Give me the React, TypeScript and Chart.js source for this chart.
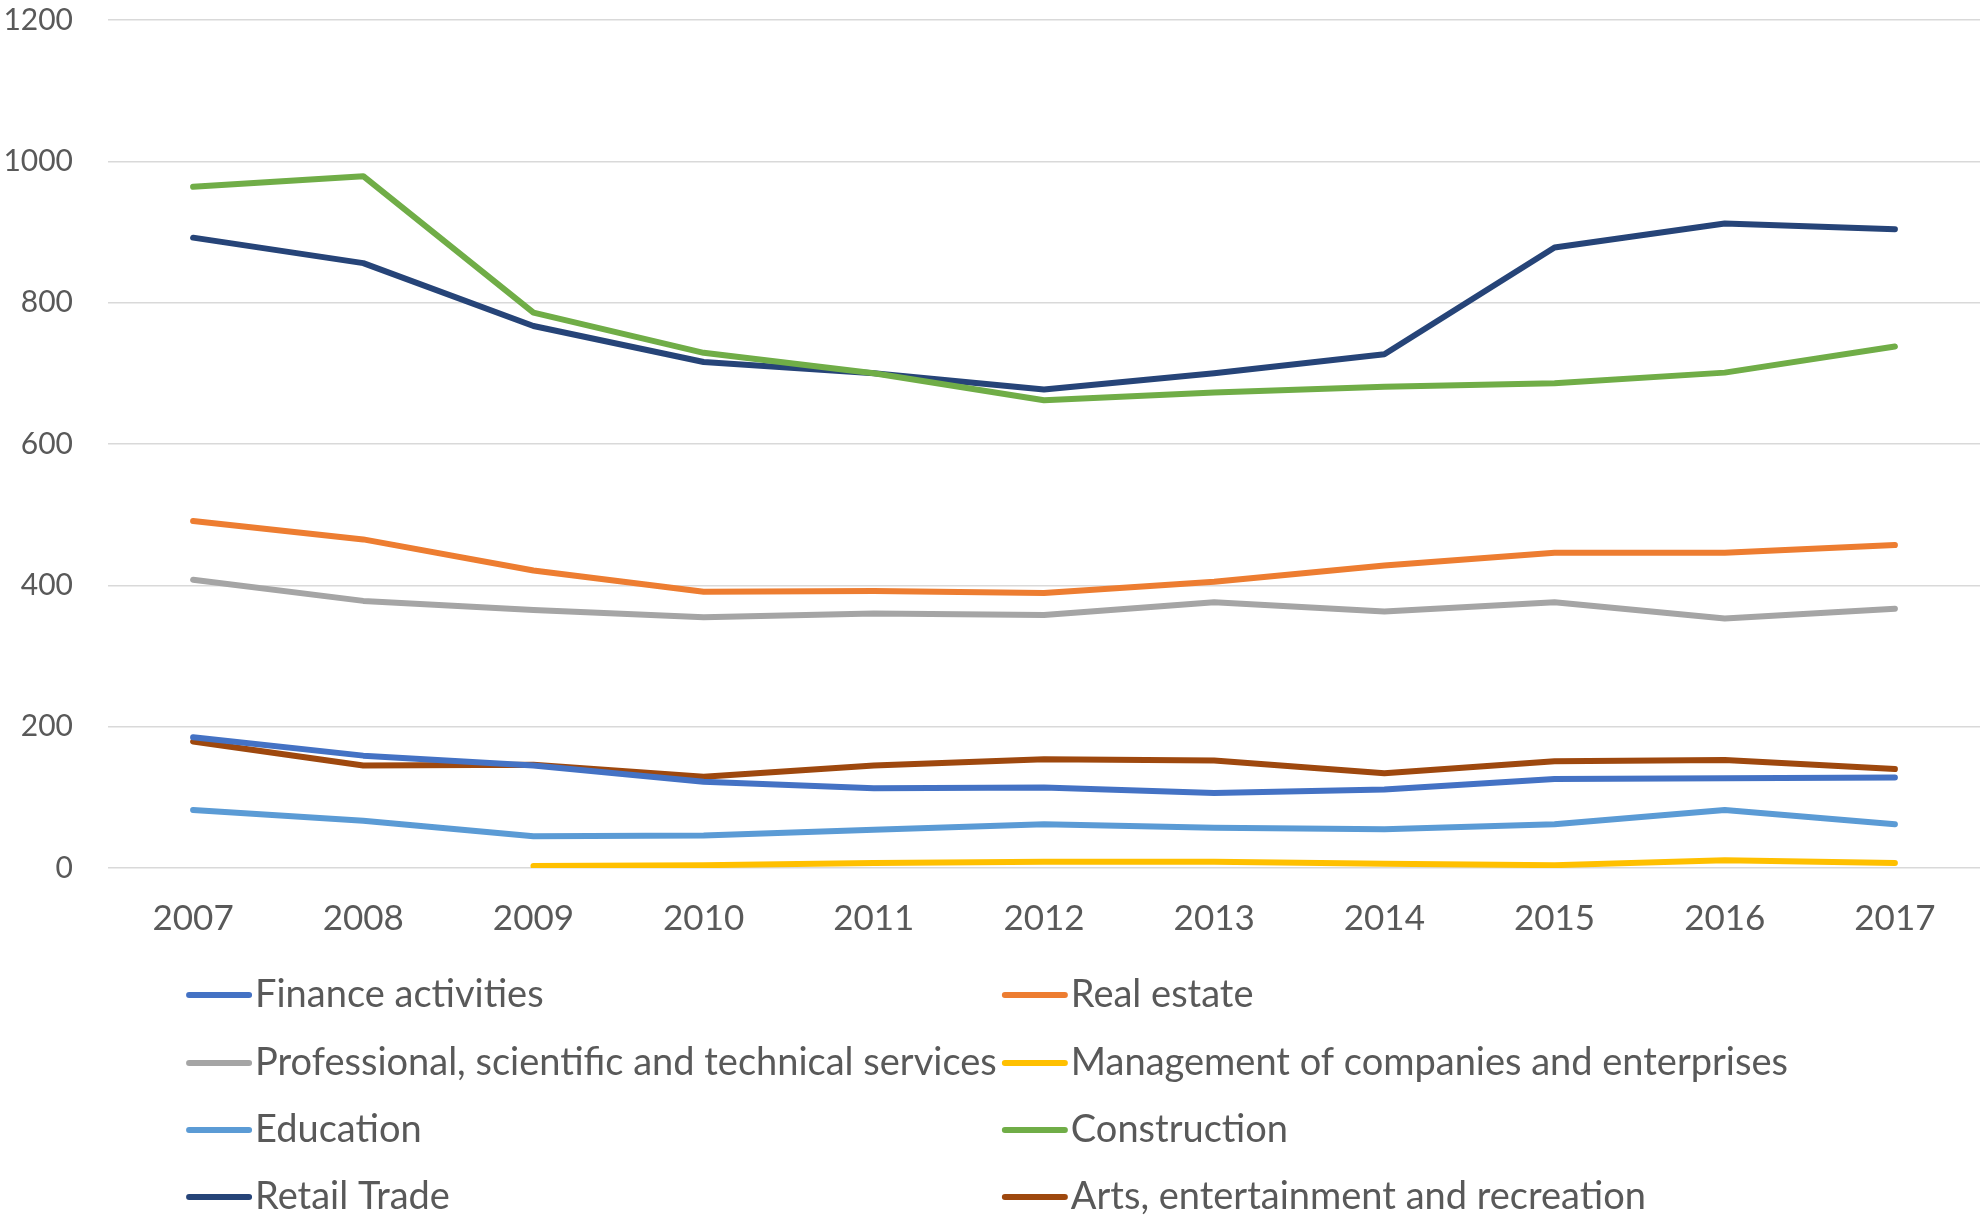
import React, { useEffect, useRef } from "react";
import { Chart, registerables } from "chart.js";

Chart.register(...registerables);

const years = ["2007", "2008", "2009", "2010", "2011", "2012", "2013", "2014", "2015", "2016", "2017"];

const finance = [185, 159, 145, 122, 113, 114, 106, 111, 126, 127, 128];
const realEstate = [491, 465, 421, 391, 392, 389, 405, 428, 446, 446, 457];
const professional = [408, 378, 365, 355, 360, 358, 376, 363, 376, 353, 367];
const management = [null, null, 3, 4, 7, 9, 9, 6, 4, 11, 7];
const education = [82, 67, 45, 46, 54, 62, 57, 55, 62, 82, 62];
const construction = [964, 979, 786, 729, 700, 662, 673, 681, 686, 701, 738];
const retail = [892, 856, 767, 716, 700, 677, 700, 727, 878, 912, 904];
const arts = [179, 145, 146, 129, 145, 154, 152, 134, 151, 153, 140];

const seriesNames = [
  "Finance activities",
  "Real estate",
  "Professional, scientific and technical services",
  "Management of companies and enterprises",
  "Education",
  "Construction",
  "Retail Trade",
  "Arts, entertainment and recreation",
];
const seriesData = [finance, realEstate, professional, management, education, construction, retail, arts];
const seriesColors = ["#4472C4", "#ED7D31", "#A5A5A5", "#FFC000", "#5B9BD5", "#70AD47", "#264478", "#9E480E"];

const FONT = "Lato, 'Open Sans', sans-serif";
const TEXT = "#595959";

const gridLegend = {
  id: "gridLegend",
  afterDraw(chart: any) {
    const ctx = chart.ctx;
    const W = chart.width;
    const colX = [W * 0.0955, W * 0.5075];
    const rowY = [995, 1063, 1130, 1197];
    const lineLen = 60;
    ctx.save();
    ctx.font = `38px ${FONT}`;
    ctx.textBaseline = "middle";
    ctx.textAlign = "left";
    chart.data.datasets.forEach((ds: any, i: number) => {
      const col = i % 2;
      const row = Math.floor(i / 2);
      const x = colX[col];
      const y = rowY[row];
      ctx.strokeStyle = ds.borderColor;
      ctx.lineWidth = 6;
      ctx.lineCap = "round";
      ctx.beginPath();
      ctx.moveTo(x, y);
      ctx.lineTo(x + lineLen, y);
      ctx.stroke();
      ctx.fillStyle = TEXT;
      ctx.fillText(ds.label, x + lineLen + 6, y);
    });
    ctx.restore();
  },
};

export default function App() {
  const ref = useRef<HTMLCanvasElement | null>(null);
  useEffect(() => {
    if (!ref.current) return;
    const chart = new Chart(ref.current, {
      type: "line",
      data: {
        labels: years,
        datasets: seriesNames.map((name, i) => ({
          label: name,
          data: seriesData[i],
          borderColor: seriesColors[i],
          backgroundColor: seriesColors[i],
          borderWidth: 6,
          borderCapStyle: "round",
          borderJoinStyle: "round",
          pointRadius: 0,
          tension: 0,
          fill: false,
          spanGaps: false,
        })),
      },
      options: {
        animation: false,
        responsive: true,
        maintainAspectRatio: false,
        layout: { padding: { top: 20, right: 0, left: 0, bottom: 280 } },
        plugins: {
          legend: { display: false },
          tooltip: { enabled: false },
        },
        scales: {
          x: {
            offset: true,
            grid: { display: false, drawTicks: false },
            border: { display: false },
            ticks: {
              color: TEXT,
              font: { family: FONT, size: 35 },
              padding: 30,
            },
            afterFit(scale: any) {
              scale.height = 72;
              scale.paddingLeft = 0;
              scale.paddingRight = 0;
            },
          },
          y: {
            min: 0,
            max: 1200,
            grid: { color: "#D9D9D9", lineWidth: 1.5, drawTicks: false },
            border: { display: false },
            ticks: {
              stepSize: 200,
              color: TEXT,
              font: { family: FONT, size: 30 },
              padding: 35,
              callback: (v: any) => String(v),
            },
            afterFit(scale: any) {
              scale.width = 108;
              scale.paddingTop = 0;
              scale.paddingBottom = 0;
            },
          },
        },
      },
      plugins: [gridLegend],
    } as any);
    return () => chart.destroy();
  }, []);
  return (
    <div style={{ position: "fixed", left: 0, top: 0, width: 1980, height: 1220, background: "#fff" }}>
      <canvas ref={ref} />
    </div>
  );
}
